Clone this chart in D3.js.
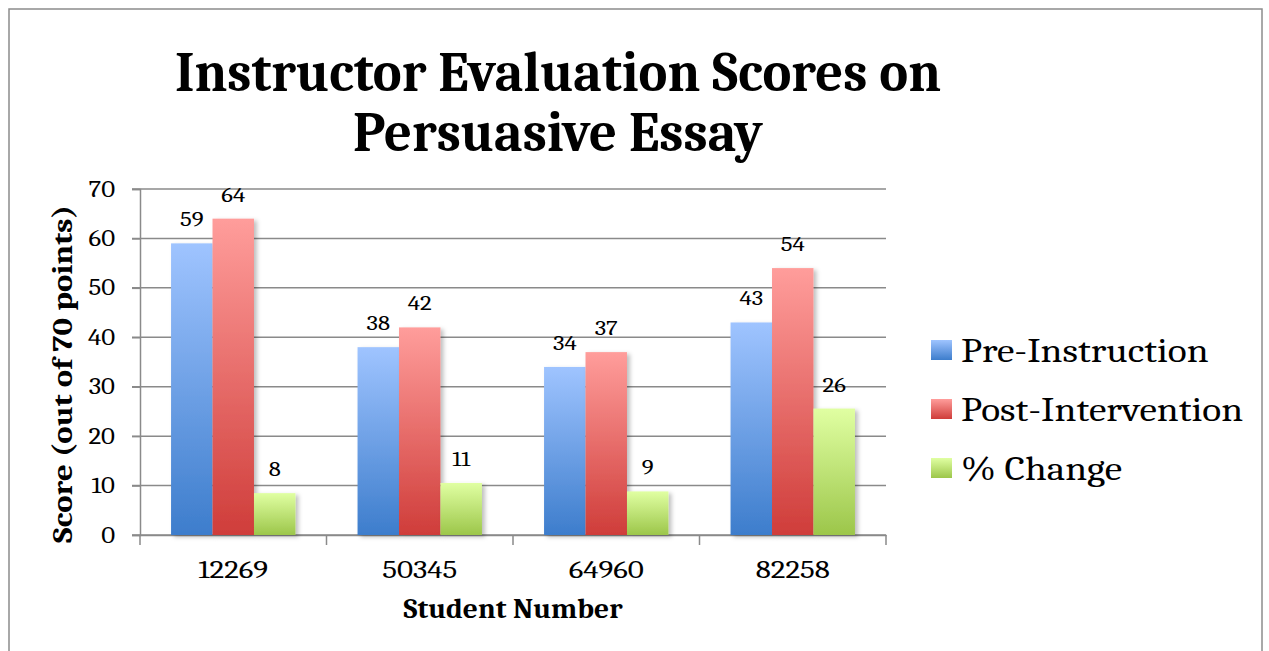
<!DOCTYPE html>
<html>
<head>
<meta charset="utf-8">
<script src="https://cdn.jsdelivr.net/npm/d3@7"></script>
<style>
  body { margin: 0; background: #fff; }
  text { font-family: Cambria, "Liberation Serif", "DejaVu Serif", serif; fill: #000; }
</style>
</head>
<body>
<svg id="chart"></svg>
<script>
// donnees du graphique
var students = ["12269", "50345", "64960", "82258"];
var seriesNames = ["Pre-Instruction", "Post-Intervention", "% Change"];
var preInstruction = [59, 38, 34, 43];
var postIntervention = [64, 42, 37, 54];
var pctChange = [8.47, 10.53, 8.82, 25.58];
var yTicks = [0, 10, 20, 30, 40, 50, 60, 70];

var svgWidth = 1269, svgHeight = 651;
var margin = { top: 189, right: 383, bottom: 116, left: 140 };
var width = svgWidth - margin.left - margin.right;
var height = svgHeight - margin.top - margin.bottom;
var serif = "Cambria, 'Liberation Serif', 'DejaVu Serif', serif";

var svg = d3.select("#chart")
    .attr("width", svgWidth)
    .attr("height", svgHeight);

// elargit un texte (la police de reference est plus large)
function stretch(sel, k) {
    sel.each(function () {
        var w = this.getComputedTextLength();
        d3.select(this)
            .attr("textLength", w * k)
            .attr("lengthAdjust", "spacingAndGlyphs");
    });
}
function fitTo(sel, w) {
    sel.attr("textLength", w).attr("lengthAdjust", "spacingAndGlyphs");
}

// degrades (haut clair -> bas fonce)
var colors = [
    { top: "#9fc4ff", bottom: "#3d7dcc" },
    { top: "#ff9d9b", bottom: "#cf3d3a" },
    { top: "#e0ffa2", bottom: "#9cc64a" }
];
var defs = svg.append("defs");
colors.forEach(function (c, i) {
    var grad = defs.append("linearGradient")
        .attr("id", "grad" + i)
        .attr("x1", 0).attr("y1", 0).attr("x2", 0).attr("y2", 1);
    grad.append("stop").attr("offset", "0%").attr("stop-color", c.top);
    grad.append("stop").attr("offset", "100%").attr("stop-color", c.bottom);
});
var filter = defs.append("filter").attr("id", "shadow")
    .attr("x", "-20%").attr("y", "-10%").attr("width", "150%").attr("height", "130%");
filter.append("feDropShadow")
    .attr("dx", 3).attr("dy", 2).attr("stdDeviation", 2)
    .attr("flood-color", "#000").attr("flood-opacity", 0.25);

// cadre exterieur
svg.append("rect")
    .attr("x", 9).attr("y", 9)
    .attr("width", 1253).attr("height", 660)
    .attr("fill", "none")
    .attr("stroke", "#8c8c8c")
    .attr("stroke-width", 1.5);

// titre
var t1 = svg.append("text")
    .attr("x", 558).attr("y", 91)
    .attr("text-anchor", "middle")
    .attr("font-weight", "bold")
    .attr("font-size", 56)
    .text("Instructor Evaluation Scores on");
fitTo(t1, 766);
var t2 = svg.append("text")
    .attr("x", 558).attr("y", 151)
    .attr("text-anchor", "middle")
    .attr("font-weight", "bold")
    .attr("font-size", 56)
    .text("Persuasive Essay");
fitTo(t2, 410);

var g = svg.append("g")
    .attr("transform", "translate(" + margin.left + "," + margin.top + ")");

var x0 = d3.scaleBand()
    .domain(students)
    .range([0, width])
    .paddingInner(0.333)
    .paddingOuter(0.1665);
var x1 = d3.scaleBand()
    .domain(d3.range(seriesNames.length))
    .range([0, x0.bandwidth()]);
var y = d3.scaleLinear().domain([0, 70]).range([height, 0]);

// grille
g.append("g")
    .selectAll("line")
    .data(yTicks)
    .enter()
    .append("line")
    .attr("x1", -8)
    .attr("x2", width)
    .attr("y1", function (d) { return y(d); })
    .attr("y2", function (d) { return y(d); })
    .attr("stroke", "#8a8a8a")
    .attr("stroke-width", 1.5);

// axe y
var yAxis = g.append("g")
    .call(d3.axisLeft(y).tickValues(yTicks).tickSize(8).tickPadding(17));
yAxis.select(".domain").attr("stroke", "#8a8a8a").attr("stroke-width", 1.5);
yAxis.selectAll(".tick line").attr("stroke", "#8a8a8a").attr("stroke-width", 1.5);
yAxis.selectAll(".tick text")
    .attr("font-size", 22)
    .attr("font-family", serif)
    .attr("fill", "#000")
    .call(stretch, 1.22);

// axe x : traits aux limites des categories
var step = width / students.length;
g.append("g")
    .selectAll("line")
    .data(d3.range(students.length + 1))
    .enter()
    .append("line")
    .attr("x1", function (d) { return d * step; })
    .attr("x2", function (d) { return d * step; })
    .attr("y1", height)
    .attr("y2", height + 10)
    .attr("stroke", "#8a8a8a")
    .attr("stroke-width", 1.5);

var xAxis = g.append("g")
    .attr("transform", "translate(0," + height + ")")
    .call(d3.axisBottom(x0).tickSize(0).tickPadding(25));
xAxis.select(".domain").attr("stroke", "#8a8a8a").attr("stroke-width", 1.5);
xAxis.selectAll(".tick text")
    .attr("font-size", 25)
    .attr("font-family", serif)
    .attr("fill", "#000")
    .call(stretch, 1.24);

// barres
var seriesValues = [preInstruction, postIntervention, pctChange];
var groups = g.selectAll("g.groupe")
    .data(students)
    .enter()
    .append("g")
    .attr("class", "groupe")
    .attr("transform", function (d) { return "translate(" + x0(d) + ",0)"; });

groups.selectAll("rect")
    .data(function (d, i) {
        return seriesValues.map(function (s, k) { return { k: k, v: s[i] }; });
    })
    .enter()
    .append("rect")
    .attr("x", function (d) { return x1(d.k); })
    .attr("width", x1.bandwidth())
    .attr("y", function (d) { return y(d.v); })
    .attr("height", function (d) { return height - y(d.v); })
    .attr("fill", function (d) { return "url(#grad" + d.k + ")"; })
    .attr("filter", "url(#shadow)");

groups.selectAll("text.valeur")
    .data(function (d, i) {
        return seriesValues.map(function (s, k) { return { k: k, v: s[i] }; });
    })
    .enter()
    .append("text")
    .attr("class", "valeur")
    .attr("x", function (d) { return x1(d.k) + x1.bandwidth() / 2; })
    .attr("y", function (d) { return y(d.v) - 17; })
    .attr("text-anchor", "middle")
    .attr("font-size", 21)
    .text(function (d) { return Math.round(d.v); })
    .call(stretch, 1.18);

// titres des axes
var xt = svg.append("text")
    .attr("x", 513)
    .attr("y", 618)
    .attr("text-anchor", "middle")
    .attr("font-weight", "bold")
    .attr("font-size", 29)
    .text("Student Number");
fitTo(xt, 219);

var yt = svg.append("text")
    .attr("transform", "translate(72,374) rotate(-90)")
    .attr("text-anchor", "middle")
    .attr("font-weight", "bold")
    .attr("font-size", 29)
    .text("Score (out of 70 points)");
fitTo(yt, 338);

// legende
var leg = svg.selectAll("g.legende")
    .data(seriesNames)
    .enter()
    .append("g")
    .attr("class", "legende")
    .attr("transform", function (d, i) { return "translate(931," + (340 + 59 * i) + ")"; });
leg.append("rect")
    .attr("width", 21)
    .attr("height", 20)
    .attr("fill", function (d, i) { return "url(#grad" + i + ")"; });
leg.append("text")
    .attr("x", 30)
    .attr("y", 22)
    .attr("font-size", 33)
    .text(function (d) { return d; })
    .call(stretch, 1.19);
</script>
</body>
</html>
